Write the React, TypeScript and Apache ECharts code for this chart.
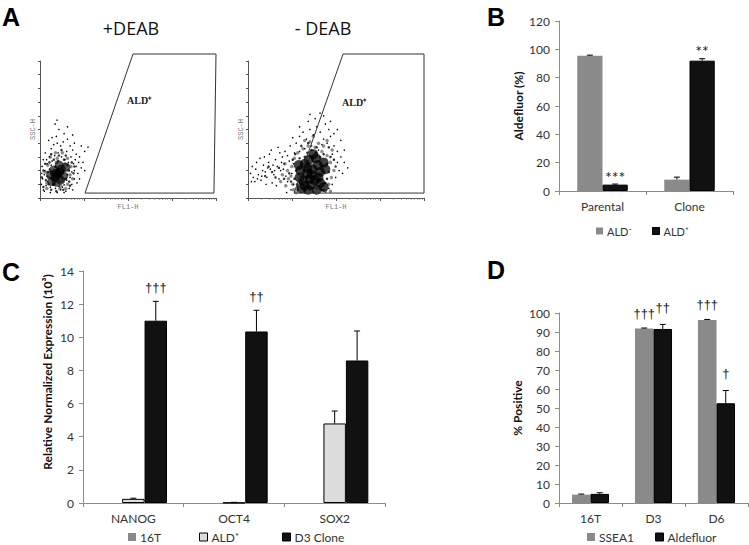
import React, { useEffect, useRef } from "react";
import * as echarts from "echarts";

// ---------- Panel A: flow cytometry (channel units: FL1 0-1024, SSC 0-1000) ----------
const gateDeab = [[262, 36], [541, 1051], [1024, 1051], [1012, 36], [262, 36]];
const gateNoDeab = [[268, 36], [553, 1051], [1024, 1051], [1024, 36], [268, 36]];

const deabDense = [[105, 180], [88, 150], [125, 210], [80, 205], [138, 160], [112, 240], [95, 115], [62, 170], [150, 225], [70, 120], [120, 130], [100, 170], [85, 180], [115, 190]];
const deabMid = [[20, 80], [35, 130], [50, 100], [65, 60], [75, 170], [90, 230], [105, 270], [120, 160], [135, 200], [150, 140], [160, 240], [170, 120], [55, 260], [30, 250], [20, 200], [45, 190], [100, 210], [140, 280], [110, 310], [80, 280], [65, 320], [125, 350], [150, 310], [185, 260], [195, 180], [10, 150], [135, 60], [95, 50], [175, 90], [200, 230]];
const deabHalo = [[60, 300], [90, 330], [130, 330], [160, 290], [180, 230], [175, 170], [160, 100], [120, 90], [80, 100], [40, 110], [30, 190], [45, 240], [100, 290], [145, 250], [70, 140], [130, 120], [95, 260], [165, 200], [50, 150], [115, 70], [40, 70], [150, 70], [190, 140]];
const deabDots = [[20, 60], [35, 90], [15, 140], [28, 200], [42, 250], [55, 300], [30, 330], [65, 360], [80, 390], [50, 420], [95, 450], [110, 500], [99, 569], [140, 470], [160, 430], [175, 380], [190, 350], [210, 320], [230, 300], [260, 340], [279, 372], [250, 260], [240, 220], [220, 180], [200, 140], [185, 100], [170, 70], [150, 50], [130, 80], [120, 60], [90, 70], [60, 80], [45, 120], [25, 170], [12, 230], [38, 280], [70, 270], [85, 310], [105, 330], [125, 300], [145, 280], [165, 260], [180, 300], [195, 250], [210, 230], [170, 200], [160, 170], [185, 190], [200, 200], [175, 150], [155, 130], [140, 95], [110, 85], [75, 95], [55, 210], [40, 160], [65, 240], [120, 380], [135, 410], [200, 400], [155, 340], [225, 260], [100, 400], [70, 440], [160, 520], [190, 460], [240, 380], [88, 540], [215, 110], [260, 200], [8, 100], [10, 180], [18, 280], [25, 50], [60, 40], [100, 40], [140, 40], [190, 60], [230, 140], [205, 280]];

const noDeabDense = [[375, 210], [345, 180], [405, 240], [330, 250], [420, 190], [360, 140], [395, 290], [305, 200], [440, 260], [320, 130], [355, 280], [410, 150], [450, 210], [295, 240], [380, 320], [330, 90], [420, 110], [365, 95], [300, 150], [350, 60], [400, 60], [310, 70], [440, 80], [370, 170], [390, 130], [345, 220]];
const noDeabMid = [[240, 180], [250, 120], [260, 280], [280, 200], [285, 100], [275, 320], [300, 290], [310, 380], [330, 300], [345, 330], [370, 350], [395, 330], [420, 300], [430, 230], [460, 250], [470, 190], [460, 140], [450, 110], [430, 60], [380, 40], [330, 40], [290, 60], [270, 140], [300, 110], [480, 300], [440, 320], [400, 370], [350, 400], [210, 140], [180, 220], [160, 150], [140, 190], [120, 230], [100, 160], [470, 370], [500, 280], [510, 230]];
const noDeabHalo = [[290, 330], [320, 360], [350, 380], [390, 370], [430, 340], [460, 310], [480, 260], [485, 150], [470, 100], [450, 50], [260, 100], [250, 160], [255, 230], [270, 290], [410, 400], [360, 410], [440, 380], [230, 200], [235, 140], [460, 420], [380, 450], [330, 420], [490, 350], [500, 200], [280, 40], [480, 50], [215, 250], [220, 90], [200, 170], [190, 120], [265, 60]];
const noDeabDots = [[15, 180], [30, 150], [45, 210], [60, 170], [75, 130], [90, 240], [100, 190], [110, 150], [120, 260], [130, 210], [140, 110], [150, 170], [160, 280], [170, 230], [180, 140], [190, 200], [200, 300], [210, 250], [220, 160], [230, 120], [25, 230], [50, 260], [70, 290], [85, 200], [105, 100], [125, 320], [145, 240], [165, 90], [185, 330], [205, 210], [240, 270], [255, 180], [265, 100], [20, 120], [55, 140], [95, 300], [135, 350], [175, 370], [215, 340], [245, 380], [280, 400], [300, 450], [320, 480], [340, 430], [360, 500], [380, 460], [400, 520], [420, 480], [440, 430], [460, 400], [480, 450], [500, 380], [520, 340], [540, 300], [560, 260], [580, 220], [419, 620], [350, 560], [390, 580], [450, 540], [470, 500], [500, 470], [430, 390], [410, 350], [370, 380], [330, 360], [300, 340], [270, 330], [490, 320], [520, 260], [530, 200], [510, 150], [490, 100], [470, 70], [440, 60], [400, 70], [360, 60], [320, 70], [290, 80], [265, 250], [550, 180], [560, 350], [540, 420], [300, 520], [260, 440], [480, 560], [520, 500], [440, 600], [360, 610], [40, 120], [80, 160], [115, 220], [155, 200], [195, 260], [230, 310], [250, 60], [225, 40]];

// ---------- Panel B ----------
const bCategories = ["Parental", "Clone"];
const bLegend = ["ALD⁻", "ALD⁺"];
const bAldNeg = [95.5, 8];
const bAldNegErr = [95.9, 9.8];
const bAldNegSig = ["", ""];
const bAldPos = [4.5, 92];
const bAldPosErr = [4.9, 93.4];
const bAldPosSig = ["***", "**"];

// ---------- Panel C ----------
const cCategories = ["NANOG", "OCT4", "SOX2"];
const cLegend = ["16T", "ALD⁺", "D3 Clone"];
const cYName = "Relative Normalized Expression (10³)";
const c16T = [0, 0, 0];
const cAldPos = [0.25, 0.02, 4.8];
const cAldPosErr = [0.29, 0.04, 5.55];
const cAldPosSig = ["", "", ""];
const cD3 = [11.0, 10.35, 8.6];
const cD3Err = [12.17, 11.63, 10.38];
const cD3Sig = ["†††", "††", ""];

// ---------- Panel D ----------
const dCategories = ["16T", "D3", "D6"];
const dLegend = ["SSEA1", "Alde\uFB02uor"];
const dSSEA1 = [4.4, 91.8, 96.3];
const dSSEA1Err = [4.7, 92.1, 96.6];
const dSSEA1Sig = ["", "†††", "†††"];
const dAlde = [4.8, 91.6, 52.5];
const dAldeErr = [5.4, 94.0, 59.2];
const dAldeSig = ["", "††", "†"];

const FONT = 'Lato, "Open Sans", "Noto Sans", sans-serif';
const SIGFONT = '13px "Liberation Sans", Arial, sans-serif';
const GRAY = "#8a8a8a";
const LIGHT = "#dcdcdc";
const BLACK = "#111111";
const AXIS = "#8c8c8c";

const legendNames: Record<string, string> = {
  "b-neg": bLegend[0],
  "b-pos": bLegend[1],
  "c-16t": cLegend[0],
  "c-ald": cLegend[1],
  "c-d3": cLegend[2],
  "d-ssea": dLegend[0],
  "d-alde": dLegend[1],
};

function errSeries(
  xAxisIndex: number,
  values: number[],
  tops: number[],
  sigs: string[],
  n: number,
  i: number,
  barFrac: number,
  lift: number,
  sigFont: string
) {
  return {
    type: "custom",
    xAxisIndex,
    yAxisIndex: xAxisIndex - 2,
    silent: true,
    z: 10,
    clip: false,
    data: values.map((v, k) => [k, v, tops[k]]),
    renderItem: (params: any, api: any) => {
      const k = api.value(0);
      const v = api.value(1);
      const t = api.value(2);
      const band = api.size([1, 0])[0];
      const bw = band * barFrac;
      const base = api.coord([k, v]);
      const top = api.coord([k, t]);
      const x = base[0] + (i - (n - 1) / 2) * bw;
      const children: any[] = [];
      if (t > v) {
        children.push({
          type: "line",
          shape: { x1: x, y1: base[1], x2: x, y2: top[1] },
          style: { stroke: "#000", lineWidth: 1 },
        });
        children.push({
          type: "line",
          shape: { x1: x - 3, y1: top[1], x2: x + 3, y2: top[1] },
          style: { stroke: "#000", lineWidth: 1 },
        });
      }
      const s = sigs[params.dataIndex];
      if (s) {
        children.push({
          type: "text",
          x,
          y: top[1] - lift,
          style: {
            text: s,
            font: sigFont,
            fill: "#222",
            align: "center",
            verticalAlign: "middle",
            textAlign: "center",
            textVerticalAlign: "middle",
          },
        });
      }
      return { type: "group", children };
    },
  };
}

function flowX(gridIndex: number) {
  return {
    gridIndex,
    type: "log",
    min: 1,
    max: 10000,
    position: "bottom",
    name: "FL1-H",
    nameLocation: "middle",
    nameGap: 5,
    nameTextStyle: { fontFamily: '"Liberation Mono", monospace', fontSize: 7, color: "#777" },
    axisLine: { show: true, lineStyle: { color: "#555", width: 1 } },
    axisTick: { show: true, length: 3, lineStyle: { color: "#555" } },
    minorTick: { show: true, splitNumber: 9, length: 1.5, lineStyle: { color: "#666" } },
    axisLabel: { show: false },
    splitLine: { show: false },
    minorSplitLine: { show: false },
  };
}

function flowY(gridIndex: number) {
  return {
    gridIndex,
    type: "value",
    min: 0,
    max: 1000,
    interval: 100,
    name: "SSC-H",
    nameLocation: "middle",
    nameGap: 4,
    nameRotate: 90,
    nameTextStyle: { fontFamily: '"Liberation Mono", monospace', fontSize: 7, color: "#777" },
    axisLine: { show: true, lineStyle: { color: "#555", width: 1 } },
    axisTick: { show: true, length: 2, lineStyle: { color: "#555" } },
    axisLabel: { show: false },
    splitLine: { show: false },
  };
}

function barY(gridIndex: number, max: number, interval: number, name: string, nameGap: number) {
  return {
    gridIndex,
    type: "value",
    min: 0,
    max,
    interval,
    name,
    nameLocation: "middle",
    nameGap,
    nameRotate: 90,
    nameTextStyle: { fontFamily: FONT, fontSize: 12, fontWeight: "bold", color: "#111" },
    axisLine: { show: true, lineStyle: { color: AXIS } },
    axisTick: { show: true, length: 4, lineStyle: { color: AXIS } },
    axisLabel: { color: "#333", fontSize: 12, fontFamily: FONT, margin: 9 },
    splitLine: { show: false },
  };
}

function barX(gridIndex: number, data: string[]) {
  return {
    gridIndex,
    type: "category",
    data,
    axisLine: { show: true, lineStyle: { color: AXIS } },
    axisTick: { show: true, length: 4, alignWithLabel: false, lineStyle: { color: AXIS } },
    axisLabel: { color: "#333", fontSize: 12, fontFamily: FONT, margin: 9 },
    splitLine: { show: false },
  };
}

function bar(name: string, xAxisIndex: number, data: number[], color: string, border: boolean, width: string) {
  return {
    type: "bar",
    name,
    xAxisIndex,
    yAxisIndex: xAxisIndex - 2,
    data,
    barWidth: width,
    barGap: "0%",
    silent: true,
    itemStyle: { color, borderColor: border ? "#000" : color, borderWidth: border ? 1 : 0 },
  };
}

function scatter(xAxisIndex: number, yAxisIndex: number, data: number[][], size: number, opacity: number) {
  return {
    type: "scatter",
    xAxisIndex,
    yAxisIndex,
    data,
    symbolSize: size,
    silent: true,
    itemStyle: { color: "#000", opacity },
  };
}

function gate(xAxisIndex: number, yAxisIndex: number, data: number[][]) {
  return {
    type: "line",
    xAxisIndex,
    yAxisIndex,
    data,
    symbol: "none",
    showSymbol: false,
    clip: false,
    silent: true,
    lineStyle: { color: "#333", width: 1 },
  };
}

function legendItem(name: string, left: number, top: number, fontSize: number, box: number, color: string, border: boolean) {
  return {
    orient: "horizontal",
    itemWidth: box,
    itemHeight: box,
    padding: 0,
    itemGap: 0,
    icon: "rect",
    selectedMode: false,
    left,
    top,
    data: [{ name, itemStyle: { color, borderColor: border ? "#000" : color, borderWidth: border ? 1 : 0 } }],
    formatter: (n: string) => legendNames[n] || n,
    textStyle: { fontFamily: FONT, fontSize, color: "#333", lineHeight: 14, padding: [0, 0, 0, -1] },
  };
}

const letterFont = 'bold 25px "Liberation Sans", Arial, sans-serif';

export default function App() {
  const ref = useRef<HTMLDivElement>(null);
  useEffect(() => {
    document.body.style.margin = "0";
    if (!ref.current) return;
    const chart = echarts.init(ref.current, null, { renderer: "svg" });
    const option: any = {
      animation: false,
      backgroundColor: "#ffffff",
      textStyle: { fontFamily: FONT },
      grid: [
        { left: 40, top: 61, width: 176, height: 137 },
        { left: 248, top: 61, width: 176, height: 137 },
        { left: 559, top: 21, width: 174, height: 170 },
        { left: 83, top: 271, width: 302, height: 232 },
        { left: 559, top: 313, width: 189, height: 190 },
      ],
      xAxis: [
        { gridIndex: 0, type: "value", min: 0, max: 1024, show: false },
        flowX(0),
        { gridIndex: 1, type: "value", min: 0, max: 1024, show: false },
        flowX(1),
        barX(2, bCategories),
        barX(3, cCategories),
        barX(4, dCategories),
      ],
      yAxis: [
        flowY(0),
        flowY(1),
        barY(2, 120, 20, "Aldefluor (%)", 35),
        { ...barY(3, 14, 2, "", 30), name: "" },
        barY(4, 100, 10, "% Positive", 36),
      ],
      legend: [
        legendItem("b-neg", 596, 224, 11, 7, GRAY, false),
        legendItem("b-pos", 652, 224, 11, 7, BLACK, true),
        legendItem("c-16t", 128, 530, 12, 8, GRAY, false),
        legendItem("c-ald", 199, 530, 12, 8, LIGHT, true),
        legendItem("c-d3", 282, 530, 12, 8, BLACK, true),
        legendItem("d-ssea", 587, 530, 12, 8, GRAY, false),
        legendItem("d-alde", 655, 530, 12, 8, BLACK, true),
      ],
      graphic: [
        { type: "text", x: 2, y: 17, style: { text: "A", font: letterFont, fill: "#000", verticalAlign: "middle", textVerticalAlign: "middle" } },
        { type: "text", x: 487, y: 17, style: { text: "B", font: letterFont, fill: "#000", verticalAlign: "middle", textVerticalAlign: "middle" } },
        { type: "text", x: 2, y: 272, style: { text: "C", font: letterFont, fill: "#000", verticalAlign: "middle", textVerticalAlign: "middle" } },
        { type: "text", x: 487, y: 270, style: { text: "D", font: letterFont, fill: "#000", verticalAlign: "middle", textVerticalAlign: "middle" } },
        { type: "text", x: 131, y: 28, style: { text: "+DEAB", font: '18px "Open Sans", sans-serif', fill: "#111", align: "center", textAlign: "center", verticalAlign: "middle", textVerticalAlign: "middle" } },
        { type: "text", x: 323, y: 28, style: { text: "- DEAB", font: '18px "Open Sans", sans-serif', fill: "#111", align: "center", textAlign: "center", verticalAlign: "middle", textVerticalAlign: "middle" } },
        { type: "text", x: 127, y: 100, style: { text: "ALD⁺", font: 'bold 10px "Liberation Serif", serif', fill: "#222", verticalAlign: "middle", textVerticalAlign: "middle" } },
        { type: "text", x: 342, y: 102, style: { text: "ALD⁺", font: 'bold 10px "Liberation Serif", serif', fill: "#222", verticalAlign: "middle", textVerticalAlign: "middle" } },
        { type: "text", x: 47, y: 372, rotation: Math.PI / 2, style: { text: cYName, font: 'bold 12px Lato, sans-serif', fill: "#111", align: "center", textAlign: "center", verticalAlign: "middle", textVerticalAlign: "middle" } },
      ],
      series: [
        scatter(0, 0, deabDots, 1.5, 1),
        scatter(0, 0, deabHalo, 3.5, 0.45),
        scatter(0, 0, deabMid, 2.5, 0.8),
        scatter(0, 0, deabDense, 9, 0.65),
        gate(0, 0, gateDeab),
        scatter(2, 1, noDeabDots, 1.5, 1),
        scatter(2, 1, noDeabHalo, 3.5, 0.45),
        scatter(2, 1, noDeabMid, 2.5, 0.8),
        scatter(2, 1, noDeabDense, 10, 0.75),
        gate(2, 1, gateNoDeab),

        bar("b-neg", 4, bAldNeg, GRAY, false, "29%"),
        bar("b-pos", 4, bAldPos, BLACK, true, "29%"),
        errSeries(4, bAldNeg, bAldNegErr, bAldNegSig, 2, 0, 0.29, 8, "16px Lato, sans-serif"),
        errSeries(4, bAldPos, bAldPosErr, bAldPosSig, 2, 1, 0.29, 8, "16px Lato, sans-serif"),

        bar("c-16t", 5, c16T, GRAY, false, "22.3%"),
        bar("c-ald", 5, cAldPos, LIGHT, true, "22.3%"),
        bar("c-d3", 5, cD3, BLACK, true, "22.3%"),
        errSeries(5, cAldPos, cAldPosErr, cAldPosSig, 3, 1, 0.223, 14, SIGFONT),
        errSeries(5, cD3, cD3Err, cD3Sig, 3, 2, 0.223, 14, SIGFONT),

        bar("d-ssea", 6, dSSEA1, GRAY, false, "29.4%"),
        bar("d-alde", 6, dAlde, BLACK, true, "29.4%"),
        errSeries(6, dSSEA1, dSSEA1Err, dSSEA1Sig, 2, 0, 0.294, 15, SIGFONT),
        errSeries(6, dAlde, dAldeErr, dAldeSig, 2, 1, 0.294, 17, SIGFONT),
      ],
    };
    chart.setOption(option);
    return () => chart.dispose();
  }, []);
  return <div ref={ref} style={{ width: 749, height: 545 }} />;
}
